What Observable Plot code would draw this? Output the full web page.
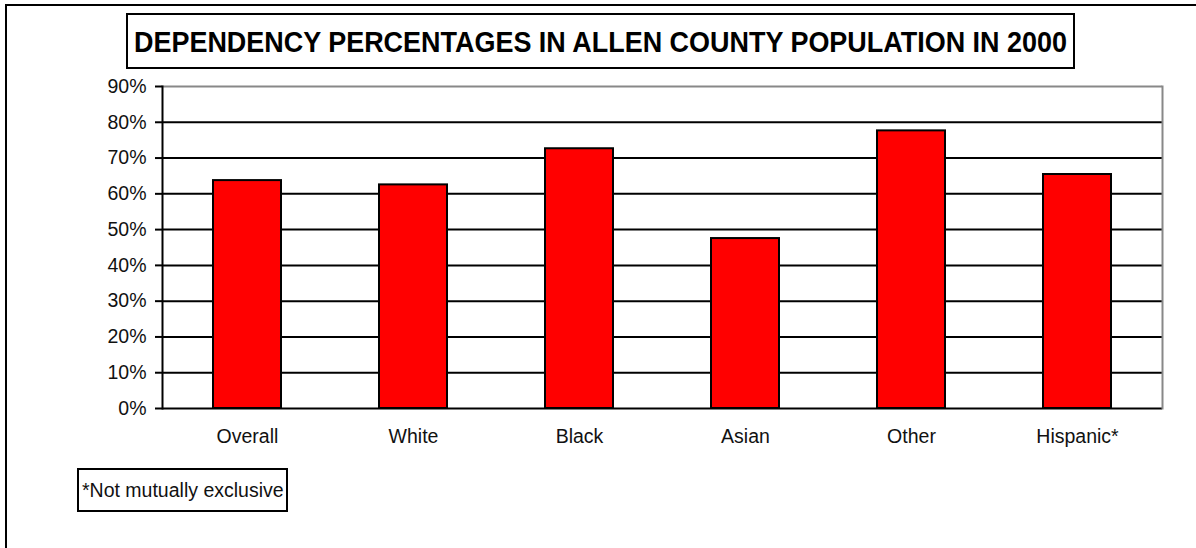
<!DOCTYPE html>
<html>
<head>
<meta charset="utf-8">
<script src="https://cdn.jsdelivr.net/npm/d3@7"></script>
<script src="https://cdn.jsdelivr.net/npm/@observablehq/plot@0.6"></script>
<style>
  html, body { margin: 0; padding: 0; background: #fff; }
  #wrap { position: relative; width: 1196px; height: 548px; overflow: hidden; font-family: "Liberation Sans", Arial, sans-serif; }
  #outer { position: absolute; left: 5px; top: 4px; width: 1300px; height: 700px; border-left: 2px solid #000; border-top: 2px solid #000; }
  #chart { position: absolute; left: 0; top: 0; }
  #titlebox { position: absolute; left: 126px; top: 13px; width: 945px; height: 52px; border: 2px solid #000; background: #fff; }
  #titlebox svg { position: absolute; left: 0; top: 0; overflow: visible; }
  #note { position: absolute; left: 77px; top: 468px; width: 207px; height: 40px; border: 2px solid #000; background: #fff; font-size: 19.5px; line-height: 40px; color: #111; }
  #note span { position: absolute; left: 3px; top: 0; white-space: nowrap; }
</style>
</head>
<body>
<div id="wrap">
  <div id="outer"></div>
  <div id="chart"></div>
  <div id="titlebox">
    <svg width="945" height="52">
      <text id="titletext" x="6" y="37" font-family="Liberation Sans Narrow, Liberation Sans, Arial, sans-serif" font-weight="bold" font-size="29" fill="#000" textLength="933" lengthAdjust="spacingAndGlyphs">DEPENDENCY PERCENTAGES IN ALLEN COUNTY POPULATION IN 2000</text>
    </svg>
  </div>
  <div id="note"><span>*Not mutually exclusive</span></div>
</div>
<script>
const categories = ["Overall", "White", "Black", "Asian", "Other", "Hispanic*"];
const percentages = [63.7, 62.5, 72.6, 47.5, 77.6, 65.4];
const yTicks = [0, 10, 20, 30, 40, 50, 60, 70, 80, 90];

const data = categories.map((c, i) => ({category: c, value: percentages[i]}));
const fmt = d => d + "%";

const chart = Plot.plot({
  width: 1196,
  height: 470,
  marginLeft: 162,
  marginRight: 34,
  marginTop: 86,
  marginBottom: 62,
  style: {fontFamily: "Liberation Sans, Arial, sans-serif", fontSize: "19.5px", color: "#111", background: "transparent", overflow: "visible"},
  x: {domain: categories, paddingInner: 0.59, paddingOuter: 0.295, label: null},
  y: {domain: [0, 90], label: null},
  marks: [
    Plot.ruleY(yTicks.filter(d => d < 90), {stroke: "#000", strokeWidth: 2}),
    Plot.ruleY([90], {stroke: "#888", strokeWidth: 2}),
    Plot.frame({anchor: "right", stroke: "#888", strokeWidth: 2}),
    Plot.barY(data, {x: "category", y: "value", fill: "#ff0000", stroke: "#000", strokeWidth: 2}),
    Plot.frame({anchor: "left", stroke: "#000", strokeWidth: 2}),
    Plot.axisY({ticks: yTicks, tickFormat: fmt, tickSize: 7, tickPadding: 9, strokeWidth: 2, stroke: "#000", strokeOpacity: 1, fill: "#111", label: null}),
    Plot.axisX({tickSize: 0, tickPadding: 21, fill: "#111", label: null})
  ]
});
document.getElementById("chart").appendChild(chart);
</script>
</body>
</html>
